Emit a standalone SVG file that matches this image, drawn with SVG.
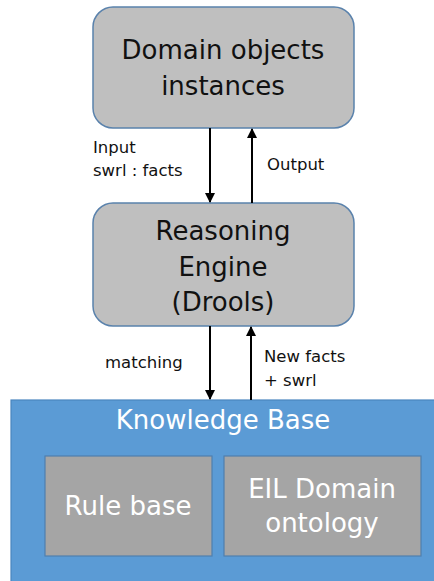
<svg xmlns="http://www.w3.org/2000/svg" width="434" height="581" viewBox="0 0 434 581">
<defs>
<style>
.rnode{fill:#bfbfbf;stroke:#5a82ac;stroke-width:1.5}
.big{font-family:"DejaVu Sans","Noto Sans",sans-serif;font-size:26px;fill:#111;text-anchor:middle}
.wt{font-family:"DejaVu Sans","Noto Sans",sans-serif;fill:#fff;text-anchor:middle}
.lbl{font-family:"DejaVu Sans","Noto Sans",sans-serif;font-size:16.5px;fill:#111}
.conn{stroke:#000;stroke-width:2;fill:none;marker-end:url(#ah)}
.inner{fill:#a5a5a5;stroke:#4f7fae;stroke-width:1.2}
</style>
<marker id="ah" viewBox="0 0 10 10" refX="9" refY="5" markerWidth="5" markerHeight="5" orient="auto" markerUnits="strokeWidth">
<path d="M0,0 L10,5 L0,10 z" fill="#000"/>
</marker>
</defs>
<rect width="434" height="581" fill="#fff"/>
<g id="domain">
<rect class="rnode" x="93" y="7" width="261" height="121" rx="20"/>
<text class="big" x="223" y="59">Domain objects</text>
<text class="big" x="223" y="95">instances</text>
</g>
<g id="engine">
<rect class="rnode" x="93" y="203" width="261" height="123" rx="20"/>
<text class="big" x="223" y="240">Reasoning</text>
<text class="big" x="223" y="276">Engine</text>
<text class="big" x="223" y="311">(Drools)</text>
</g>
<g id="kb">
<rect x="11" y="400" width="430" height="190" fill="#5b9bd5" stroke="#4a85be" stroke-width="1.2"/>
<text class="wt" x="223" y="429" font-size="26">Knowledge Base</text>
</g>
<g id="rulebase">
<rect class="inner" x="45" y="456" width="167" height="100"/>
<text class="wt" x="128" y="515" font-size="26">Rule base</text>
</g>
<g id="ontology">
<rect class="inner" x="224" y="456" width="197" height="100"/>
<text class="wt" x="322" y="498" font-size="26">EIL Domain</text>
<text class="wt" x="322" y="532" font-size="26">ontology</text>
</g>
<g id="connectors">
<line class="conn" x1="210" y1="128" x2="210" y2="202"/>
<line class="conn" x1="252" y1="203" x2="252" y2="129"/>
<line class="conn" x1="210" y1="326" x2="210" y2="399"/>
<line class="conn" x1="251" y1="400" x2="251" y2="327"/>
<text class="lbl" x="93" y="153">Input</text>
<text class="lbl" x="93" y="176">swrl : facts</text>
<text class="lbl" x="267" y="170">Output</text>
<text class="lbl" x="105" y="368">matching</text>
<text class="lbl" x="264" y="362">New facts</text>
<text class="lbl" x="264" y="386">+ swrl</text>
</g>
</svg>
